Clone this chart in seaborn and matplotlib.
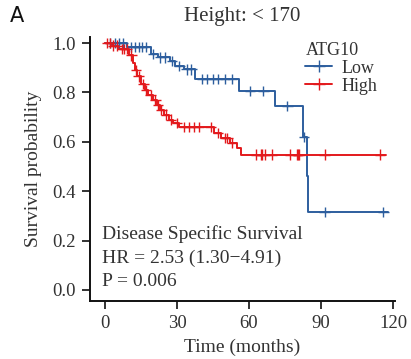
import numpy as np
import pandas as pd
import matplotlib
matplotlib.use("Agg")
import matplotlib.pyplot as plt
from matplotlib.lines import Line2D
import seaborn as sns

# ---- data ----
groups = ["Low", "High"]
low_time = [0, 9, 19, 22, 27, 29, 33, 37.5, 56, 71, 82.5, 84, 84.5, 118]
low_surv = [1.0, 0.983, 0.955, 0.942, 0.928, 0.908, 0.893, 0.855, 0.806, 0.745, 0.62, 0.46, 0.316, 0.316]
low_censor = [2, 4, 6, 7.5, 11, 12.5, 14, 15.5, 17, 20, 23, 25, 28, 31, 34, 36, 40.5,
              42.5, 45, 47, 50, 53, 60.5, 66, 76, 83, 91.5, 116]

high_time = [0, 3, 6, 10, 11.5, 12.5, 13.5, 15, 16.5, 18, 20, 21.5, 23, 24.5, 26.5,
             28.5, 31, 45.5, 48.5, 52, 55, 56.5, 117]
high_surv = [1.0, 0.99, 0.976, 0.95, 0.92, 0.89, 0.865, 0.835, 0.81, 0.79, 0.77, 0.75,
             0.73, 0.71, 0.69, 0.675, 0.66, 0.635, 0.615, 0.595, 0.575, 0.548, 0.548]
high_censor = [1, 2, 3.5, 5, 7, 8, 9, 11, 13, 14, 16, 17, 19, 21, 22, 23.5, 25.5, 27.5,
               30, 33, 35, 37, 39, 44, 47, 50, 51, 53, 63, 65, 65.5, 66.5, 69.5, 77,
               80, 80.5, 81, 91.5, 114.5]

x_ticks = [0, 30, 60, 90, 120]
y_ticks = [0.0, 0.2, 0.4, 0.6, 0.8, 1.0]
title = "Height: < 170"
legend_title = "ATG10"
annot = ["Disease Specific Survival", "HR = 2.53 (1.30\u22124.91)", "P = 0.006"]
colors = {"Low": "#2d5e9e", "High": "#e3191c"}

# ---- build tables ----
curves = pd.concat([
    pd.DataFrame({"time": low_time, "surv": low_surv, "group": "Low"}),
    pd.DataFrame({"time": high_time, "surv": high_surv, "group": "High"}),
], ignore_index=True)


def censor_y(times, tt, ss):
    idx = np.searchsorted(np.array(tt), np.array(times), side="right") - 1
    return np.array(ss)[idx]


cens = pd.concat([
    pd.DataFrame({"time": low_censor, "surv": censor_y(low_censor, low_time, low_surv), "group": "Low"}),
    pd.DataFrame({"time": high_censor, "surv": censor_y(high_censor, high_time, high_surv), "group": "High"}),
], ignore_index=True)

# ---- plot ----
sns.set_style("ticks")
plt.rcParams["font.family"] = ["Liberation Serif", "DejaVu Serif"]

fig = plt.figure(figsize=(4.11, 3.59), dpi=100)
ax = fig.add_axes([0.219, 0.1616, 0.742, 0.735])

sns.lineplot(data=curves, x="time", y="surv", hue="group", hue_order=groups,
             palette=colors, drawstyle="steps-post", estimator=None, sort=False,
             linewidth=1.4, legend=False, ax=ax)
sns.scatterplot(data=cens, x="time", y="surv", hue="group", hue_order=groups,
                palette=colors, marker="+", s=55, linewidth=1.0, legend=False, ax=ax,
                zorder=3)

ax.set_xlim(-6.25, 120.8)
ax.set_ylim(-0.045, 1.024)
ax.set_xticks(x_ticks)
ax.set_yticks(y_ticks)
ax.set_xticklabels([str(v) for v in x_ticks])
ax.set_yticklabels([f"{v:.1f}" for v in y_ticks])
ax.tick_params(axis="both", labelsize=13.5, length=5.5, width=1.3, colors="#222222",
               labelcolor="#333333", pad=4.5)
for side in ["left", "bottom"]:
    ax.spines[side].set_linewidth(1.4)
    ax.spines[side].set_color("#111111")
ax.spines["top"].set_visible(False)
ax.spines["right"].set_visible(False)

ax.set_xlabel("Time (months)", fontsize=14, color="#333333", labelpad=5)
ax.set_ylabel("Survival probability", fontsize=14, color="#333333", labelpad=8)

fig.text(0.59, 0.955, title, ha="center", va="center", fontsize=15, color="#333333")
fig.text(0.025, 0.955, "A", ha="left", va="center", fontsize=15, color="#111111",
         family=["DejaVu Sans"])

for i, t in enumerate(annot):
    ax.text(-1.2, 0.225 - i * 0.0955, t, ha="left", va="center", fontsize=14,
            color="#333333")

handles = [Line2D([0], [0], color=colors[g], marker="+", markersize=8, linewidth=1.4,
                  markeredgewidth=1.0) for g in groups]
leg = ax.legend(handles, groups, title=legend_title, loc="upper left",
                bbox_to_anchor=(0.7125, 0.919), bbox_transform=fig.transFigure,
                frameon=False, fontsize=13, title_fontsize=13, handlelength=1.45,
                handletextpad=0.55, labelspacing=0.05, borderpad=0.2)
leg._legend_box.align = "left"
for txt in leg.get_texts():
    txt.set_color("#333333")
leg.get_title().set_color("#333333")

fig.savefig("out.png", dpi=100)
